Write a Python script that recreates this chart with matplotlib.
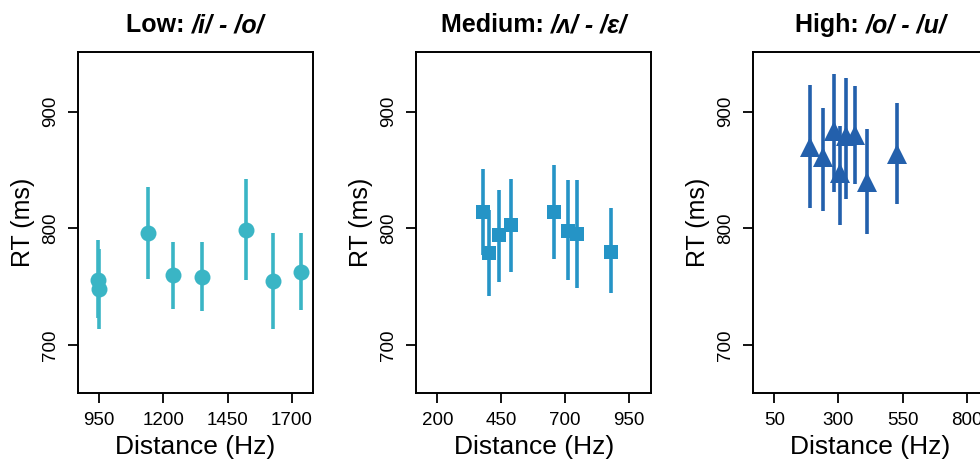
import matplotlib
matplotlib.use('Agg')
import matplotlib.pyplot as plt
import numpy as np

plt.rcParams['font.family'] = ['Liberation Sans', 'DejaVu Sans']

# Data
low_x = [945, 951, 1140, 1239, 1349, 1520, 1628, 1737]
low_y = [756, 748, 796, 760, 758, 799, 755, 763]
low_lo = [723, 714, 757, 731, 729, 756, 714, 730]
low_hi = [790, 782, 835, 788, 788, 842, 796, 796]

med_x = [380, 403, 440, 490, 656, 712, 746, 881]
med_y = [814, 779, 794, 803, 814, 798, 795, 780]
med_lo = [777, 742, 754, 763, 774, 756, 749, 745]
med_hi = [851, 816, 833, 842, 854, 841, 841, 817]

high_x = [188, 238, 281, 306, 328, 365, 411, 528]
high_y = [870, 861, 883, 847, 879, 880, 840, 864]
high_lo = [817, 815, 831, 803, 825, 838, 795, 821]
high_hi = [923, 903, 932, 888, 929, 922, 885, 907]

panels = [
    ('Low: ', '/i/ - /o/', low_x, low_y, low_lo, low_hi, 'o', '#3ab5c5', 11.5,
     (868, 1782), [950, 1200, 1450, 1700]),
    ('Medium: ', '/\u028c/ - /\u025b/', med_x, med_y, med_lo, med_hi, 's', '#2594c6', 10,
     (118, 1037), [200, 450, 700, 950]),
    ('High: ', '/o/ - /u/', high_x, high_y, high_lo, high_hi, '^', '#2360ac', 14,
     (-33, 883), [50, 300, 550, 800]),
]

fig = plt.figure(figsize=(9.8, 4.61), dpi=100)
lefts = [0.0796, 0.4248, 0.7684]
AXW = 0.2398
TY = 1.058

titles = []
for left, (t1, t2, x, y, lo, hi, mk, col, ms, xl, xt) in zip(lefts, panels):
    ax = fig.add_axes([left, 0.1475, AXW, 0.7397])
    x = np.array(x); y = np.array(y)
    err = [y - np.array(lo), np.array(hi) - y]
    ax.errorbar(x, y, yerr=err, fmt=mk, color=col, ms=ms, elinewidth=2.6,
                capsize=0, mew=0)
    ax.set_xlim(*xl)
    ax.set_ylim(659, 951)
    ax.set_xticks(xt)
    ax.set_yticks([700, 800, 900])
    ax.tick_params(length=7.2, width=1.3, labelsize=13.5, colors='black')
    ax.tick_params(axis='x', pad=6.5)
    ax.tick_params(axis='y', pad=6.5)
    for lab in ax.get_yticklabels():
        lab.set_rotation(90)
        lab.set_va('center')
    for s in ax.spines.values():
        s.set_linewidth(1.4)
    ax.set_xlabel('Distance (Hz)', fontsize=19, labelpad=4)
    ax.set_ylabel('RT (ms)', fontsize=18, labelpad=5)
    a = ax.text(0.5, TY, t1, transform=ax.transAxes, fontsize=18,
                fontweight='bold', ha='left', va='baseline')
    b = ax.text(0.5, TY, t2, transform=ax.transAxes, fontsize=18,
                fontweight='bold', style='italic', ha='left', va='baseline')
    titles.append((ax, a, b))

# centre the two-part titles over each panel
fig.canvas.draw()
r = fig.canvas.get_renderer()
width_ax = AXW * 980
for ax, a, b in titles:
    wa = a.get_window_extent(r).width
    wb = b.get_window_extent(r).width
    x0 = width_ax / 2 - (wa + wb) / 2
    a.set_position((x0 / width_ax, TY))
    b.set_position(((x0 + wa) / width_ax, TY))

fig.savefig('out.png', dpi=100)
